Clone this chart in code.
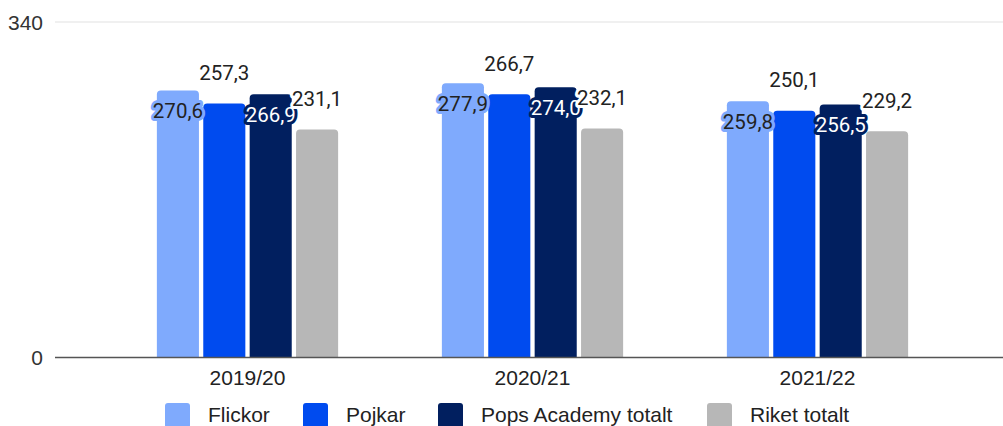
<!DOCTYPE html>
<html>
<head>
<meta charset="utf-8">
<script src="https://cdn.jsdelivr.net/npm/d3@7"></script>
<style>
  html, body { margin: 0; padding: 0; background: #fff; }
  #chart { width: 1003px; height: 426px; overflow: hidden; }
</style>
</head>
<body>
<div id="chart"></div>
<script>
// Data
const categories = ["2019/20", "2020/21", "2021/22"];
const seriesNames = ["Flickor", "Pojkar", "Pops Academy totalt", "Riket totalt"];
const flickor = [270.6, 277.9, 259.8];
const pojkar = [257.3, 266.7, 250.1];
const popsTotalt = [266.9, 274.0, 256.5];
const riketTotalt = [231.1, 232.1, 229.2];
const yTicks = [0, 340];

const seriesValues = [flickor, pojkar, popsTotalt, riketTotalt];
const colors = ["#7faafd", "#004bef", "#011f5f", "#b7b7b7"];
// where each series puts its value label, and how it looks
const labelStyle = [
  { inside: true, fill: "#222", halo: "#7faafd" },
  { inside: false, fill: "#222", halo: "#fff" },
  { inside: true, fill: "#fff", halo: "#011f5f" },
  { inside: false, fill: "#222", halo: "#fff" }
];

const width = 1003;
const height = 426;
const plot = { left: 55, right: 1003, top: 22, bottom: 357.5 };

const rows = categories.map((c, i) => ({
  category: c,
  values: seriesNames.map((s, j) => ({ series: s, idx: j, value: seriesValues[j][i] }))
}));

const svg = d3
  .select("#chart")
  .append("svg")
  .attr("width", width)
  .attr("height", height);

// Scales
const x0 = d3
  .scaleBand()
  .domain(categories)
  .range([105, 960])
  .paddingInner(0.364)
  .paddingOuter(0.182);

const x1 = d3
  .scaleBand()
  .domain(seriesNames)
  .range([0, x0.bandwidth()])
  .paddingInner(0.093)
  .paddingOuter(0);

const y = d3
  .scaleLinear()
  .domain([0, 340])
  .range([plot.bottom, plot.top]);

const fmt = (v) => d3.format(".1f")(v).replace(".", ",");

// Gridlines and y labels
svg
  .append("g")
  .selectAll("line")
  .data(yTicks.filter((t) => t !== 0))
  .enter()
  .append("line")
  .attr("x1", plot.left)
  .attr("x2", plot.right)
  .attr("y1", (d) => y(d))
  .attr("y2", (d) => y(d))
  .attr("stroke", "#ebebeb")
  .attr("stroke-width", 1.5);

svg
  .append("g")
  .selectAll("text")
  .data(yTicks)
  .enter()
  .append("text")
  .attr("x", 43)
  .attr("y", (d) => y(d))
  .attr("dy", "0.36em")
  .attr("text-anchor", "end")
  .style("font-family", "'Liberation Sans', Arial, sans-serif")
  .style("font-size", "21px")
  .attr("fill", "#333")
  .text((d) => d);

// Bars with rounded top corners
const roundTop = (x, yTop, w, h, r) => {
  r = Math.min(r, h, w / 2);
  return `M${x},${yTop + h}V${yTop + r}Q${x},${yTop} ${x + r},${yTop}` +
    `H${x + w - r}Q${x + w},${yTop} ${x + w},${yTop + r}V${yTop + h}Z`;
};

const groups = svg
  .append("g")
  .selectAll("g")
  .data(rows)
  .enter()
  .append("g")
  .attr("transform", (d) => `translate(${x0(d.category)},0)`);

groups
  .selectAll("path")
  .data((d) => d.values)
  .enter()
  .append("path")
  .attr("d", (d) =>
    roundTop(x1(d.series), y(d.value), x1.bandwidth(), plot.bottom - y(d.value), 4)
  )
  .attr("fill", (d) => colors[d.idx]);

// Baseline
svg
  .append("line")
  .attr("x1", plot.left)
  .attr("x2", plot.right)
  .attr("y1", y(0))
  .attr("y2", y(0))
  .attr("stroke", "#555")
  .attr("stroke-width", 1.5);

// Value labels (drawn series by series so later halos cover earlier text)
const allLabels = [];
seriesNames.forEach((s, j) => {
  rows.forEach((r) => allLabels.push({ category: r.category, ...r.values[j] }));
});

svg
  .append("g")
  .selectAll("text")
  .data(allLabels)
  .enter()
  .append("text")
  .attr("x", (d) => x0(d.category) + x1(d.series) + x1.bandwidth() / 2)
  .attr("y", (d) => (labelStyle[d.idx].inside ? y(d.value) + 20 : y(d.value) - 31))
  .attr("dy", "0.36em")
  .attr("text-anchor", "middle")
  .style("font-family", "Roboto, sans-serif")
  .style("font-size", "20.5px")
  .attr("fill", (d) => labelStyle[d.idx].fill)
  .attr("stroke", (d) => labelStyle[d.idx].halo)
  .attr("stroke-width", 6)
  .attr("stroke-linejoin", "round")
  .attr("paint-order", "stroke")
  .text((d) => fmt(d.value));

// X axis labels
svg
  .append("g")
  .selectAll("text")
  .data(categories)
  .enter()
  .append("text")
  .attr("x", (d) => x0(d) + x0.bandwidth() / 2)
  .attr("y", 385)
  .attr("text-anchor", "middle")
  .style("font-family", "'Liberation Sans', Arial, sans-serif")
  .style("font-size", "21px")
  .attr("fill", "#222")
  .text((d) => d);

// Legend
const legendX = [165, 303, 438, 707];
const legend = svg
  .append("g")
  .selectAll("g")
  .data(seriesNames)
  .enter()
  .append("g")
  .attr("transform", (d, i) => `translate(${legendX[i]},403)`);

legend
  .append("rect")
  .attr("width", 25)
  .attr("height", 25)
  .attr("rx", 3)
  .attr("fill", (d, i) => colors[i]);

legend
  .append("text")
  .attr("x", 43)
  .attr("y", 18.5)
  .style("font-family", "'Liberation Sans', Arial, sans-serif")
  .style("font-size", "21px")
  .attr("fill", "#222")
  .text((d) => d);
</script>
</body>
</html>
